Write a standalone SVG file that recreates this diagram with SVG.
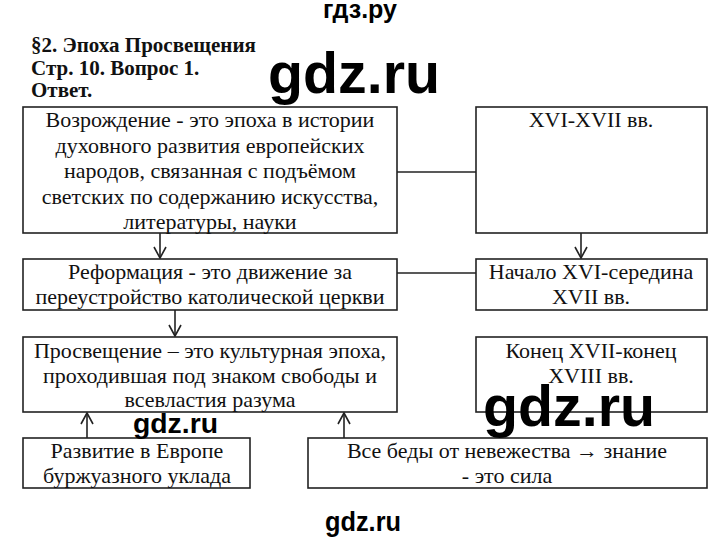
<svg xmlns="http://www.w3.org/2000/svg" width="720" height="540" viewBox="0 0 720 540">
<defs>
<style>
.box{fill:#fff;stroke:#222;stroke-width:1.6}
.t{font-family:"Liberation Serif","Times New Roman",serif;font-size:22px;fill:#111;text-anchor:middle}
.h{font-family:"Liberation Serif","Times New Roman",serif;font-size:21px;font-weight:bold;fill:#111}
.w{font-family:"Liberation Sans",Arial,sans-serif;font-weight:bold;fill:#000}
.c{stroke:#222;stroke-width:1.6;fill:none}
</style>
<marker id="ah" markerWidth="14" markerHeight="14" refX="12" refY="7" orient="auto" markerUnits="userSpaceOnUse" viewBox="0 0 14 14">
<polyline points="1,1 12,7 1,13" fill="none" stroke="#222" stroke-width="1.6"/>
</marker>
</defs>
<rect width="720" height="540" fill="#fff"/>
<g id="header">
<text class="h" x="31" y="52">§2. Эпоха Просвещения</text>
<text class="h" x="31" y="75">Стр. 10. Вопрос 1.</text>
<text class="h" x="31" y="97">Ответ.</text>
</g>
<g id="connectors">
<line class="c" x1="160" y1="233" x2="160" y2="258" marker-end="url(#ah)"/>
<line class="c" x1="175" y1="310" x2="175" y2="336" marker-end="url(#ah)"/>
<line class="c" x1="581" y1="233" x2="581" y2="258" marker-end="url(#ah)"/>
<line class="c" x1="397" y1="172" x2="476" y2="172"/>
<line class="c" x1="397" y1="273" x2="476" y2="273"/>
<line class="c" x1="87" y1="438" x2="87" y2="413" marker-end="url(#ah)"/>
<line class="c" x1="344" y1="438" x2="344" y2="413" marker-end="url(#ah)"/>
</g>
<g id="n1">
<rect class="box" x="23" y="107" width="374" height="126"/>
<text class="t" x="210" y="127">Возрождение - это эпоха в истории</text>
<text class="t" x="210" y="153">духовного развития европейских</text>
<text class="t" x="210" y="178">народов, связанная с подъёмом</text>
<text class="t" x="210" y="204">светских по содержанию искусства,</text>
<text class="t" x="210" y="229">литературы, науки</text>
</g>
<g id="n2">
<rect class="box" x="23" y="259" width="374" height="51"/>
<text class="t" x="210" y="279">Реформация - это движение за</text>
<text class="t" x="210" y="304">переустройство католической церкви</text>
</g>
<g id="n3">
<rect class="box" x="23" y="337" width="374" height="75"/>
<text class="t" x="210" y="358">Просвещение – это культурная эпоха,</text>
<text class="t" x="210" y="383">проходившая под знаком свободы и</text>
<text class="t" x="210" y="407">всевластия разума</text>
</g>
<g id="n4">
<rect class="box" x="23" y="438" width="227" height="50"/>
<text class="t" x="137" y="458">Развитие в Европе</text>
<text class="t" x="137" y="483">буржуазного уклада</text>
</g>
<g id="n5">
<rect class="box" x="308" y="438" width="399" height="50"/>
<text class="t" x="507" y="458">Все беды от невежества → знание</text>
<text class="t" x="507" y="483">- это сила</text>
</g>
<g id="r1">
<rect class="box" x="476" y="107" width="231" height="126"/>
<text class="t" x="591" y="127">XVI-XVII вв.</text>
</g>
<g id="r2">
<rect class="box" x="476" y="259" width="231" height="51"/>
<text class="t" x="591" y="279">Начало XVI-середина</text>
<text class="t" x="591" y="304">XVII вв.</text>
</g>
<g id="r3">
<rect class="box" x="476" y="337" width="231" height="75"/>
<text class="t" x="591" y="358">Конец XVII-конец</text>
<text class="t" x="591" y="383">XVIII вв.</text>
</g>
<g id="watermarks">
<text class="w" x="323" y="18" font-size="25" textLength="74" lengthAdjust="spacingAndGlyphs">гдз.ру</text>
<text class="w" x="268" y="93" font-size="57" textLength="172" lengthAdjust="spacingAndGlyphs">gdz.ru</text>
<text class="w" x="483" y="426" font-size="57" textLength="172" lengthAdjust="spacingAndGlyphs">gdz.ru</text>
<text class="w" x="133" y="433" font-size="28" textLength="85" lengthAdjust="spacingAndGlyphs">gdz.ru</text>
<text class="w" x="325" y="531" font-size="28" textLength="76" lengthAdjust="spacingAndGlyphs">gdz.ru</text>
</g>
</svg>
